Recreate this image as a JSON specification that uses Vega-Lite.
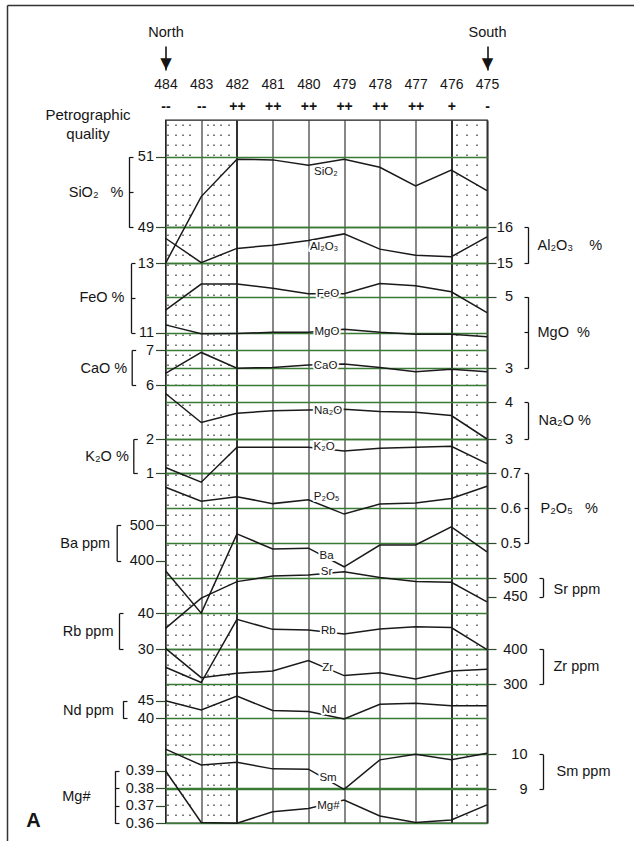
{
  "$schema": "https://vega.github.io/schema/vega-lite/v6.json",
  "width": 321.5,
  "height": 703,
  "autosize": {"type": "none"},
  "padding": {"left": 165.5, "top": 120, "right": 147, "bottom": 18},
  "background": "white",
  "datasets": {
    "chem": [
      {"s":484,"k":"SiO2","v":47.98},{"s":483,"k":"SiO2","v":49.87},{"s":482,"k":"SiO2","v":50.93},{"s":481,"k":"SiO2","v":50.91},{"s":480,"k":"SiO2","v":50.76},{"s":479,"k":"SiO2","v":50.93},{"s":478,"k":"SiO2","v":50.70},{"s":477,"k":"SiO2","v":50.17},{"s":476,"k":"SiO2","v":50.62},{"s":475,"k":"SiO2","v":50.04},
      {"s":484,"k":"Al2O3","v":15.69},{"s":483,"k":"Al2O3","v":15.02},{"s":482,"k":"Al2O3","v":15.41},{"s":481,"k":"Al2O3","v":15.50},{"s":480,"k":"Al2O3","v":15.63},{"s":479,"k":"Al2O3","v":15.81},{"s":478,"k":"Al2O3","v":15.39},{"s":477,"k":"Al2O3","v":15.22},{"s":476,"k":"Al2O3","v":15.18},{"s":475,"k":"Al2O3","v":15.73},
      {"s":484,"k":"FeO","v":11.65},{"s":483,"k":"FeO","v":12.40},{"s":482,"k":"FeO","v":12.40},{"s":481,"k":"FeO","v":12.28},{"s":480,"k":"FeO","v":12.12},{"s":479,"k":"FeO","v":12.12},{"s":478,"k":"FeO","v":12.42},{"s":477,"k":"FeO","v":12.35},{"s":476,"k":"FeO","v":12.18},{"s":475,"k":"FeO","v":11.58},
      {"s":484,"k":"MgO","v":4.21},{"s":483,"k":"MgO","v":3.96},{"s":482,"k":"MgO","v":3.97},{"s":481,"k":"MgO","v":4.00},{"s":480,"k":"MgO","v":4.00},{"s":479,"k":"MgO","v":4.09},{"s":478,"k":"MgO","v":4.00},{"s":477,"k":"MgO","v":3.95},{"s":476,"k":"MgO","v":3.95},{"s":475,"k":"MgO","v":3.88},
      {"s":484,"k":"CaO","v":6.33},{"s":483,"k":"CaO","v":6.93},{"s":482,"k":"CaO","v":6.48},{"s":481,"k":"CaO","v":6.50},{"s":480,"k":"CaO","v":6.57},{"s":479,"k":"CaO","v":6.60},{"s":478,"k":"CaO","v":6.50},{"s":477,"k":"CaO","v":6.38},{"s":476,"k":"CaO","v":6.45},{"s":475,"k":"CaO","v":6.38},
      {"s":484,"k":"Na2O","v":4.24},{"s":483,"k":"Na2O","v":3.45},{"s":482,"k":"Na2O","v":3.70},{"s":481,"k":"Na2O","v":3.77},{"s":480,"k":"Na2O","v":3.79},{"s":479,"k":"Na2O","v":3.81},{"s":478,"k":"Na2O","v":3.75},{"s":477,"k":"Na2O","v":3.73},{"s":476,"k":"Na2O","v":3.64},{"s":475,"k":"Na2O","v":3.00},
      {"s":484,"k":"K2O","v":1.17},{"s":483,"k":"K2O","v":0.74},{"s":482,"k":"K2O","v":1.76},{"s":481,"k":"K2O","v":1.76},{"s":480,"k":"K2O","v":1.76},{"s":479,"k":"K2O","v":1.65},{"s":478,"k":"K2O","v":1.73},{"s":477,"k":"K2O","v":1.76},{"s":476,"k":"K2O","v":1.79},{"s":475,"k":"K2O","v":1.28},
      {"s":484,"k":"P2O5","v":0.660},{"s":483,"k":"P2O5","v":0.620},{"s":482,"k":"P2O5","v":0.633},{"s":481,"k":"P2O5","v":0.613},{"s":480,"k":"P2O5","v":0.624},{"s":479,"k":"P2O5","v":0.583},{"s":478,"k":"P2O5","v":0.612},{"s":477,"k":"P2O5","v":0.615},{"s":476,"k":"P2O5","v":0.628},{"s":475,"k":"P2O5","v":0.663},
      {"s":484,"k":"Ba","v":372},{"s":483,"k":"Ba","v":253},{"s":482,"k":"Ba","v":475},{"s":481,"k":"Ba","v":433},{"s":480,"k":"Ba","v":435},{"s":479,"k":"Ba","v":383},{"s":478,"k":"Ba","v":444},{"s":477,"k":"Ba","v":444},{"s":476,"k":"Ba","v":495},{"s":475,"k":"Ba","v":425},
      {"s":484,"k":"Sr","v":364},{"s":483,"k":"Sr","v":446},{"s":482,"k":"Sr","v":491},{"s":481,"k":"Sr","v":506},{"s":480,"k":"Sr","v":509},{"s":479,"k":"Sr","v":518},{"s":478,"k":"Sr","v":502},{"s":477,"k":"Sr","v":491},{"s":476,"k":"Sr","v":489},{"s":475,"k":"Sr","v":436},
      {"s":484,"k":"Rb","v":24.9},{"s":483,"k":"Rb","v":20.6},{"s":482,"k":"Rb","v":38.3},{"s":481,"k":"Rb","v":35.5},{"s":480,"k":"Rb","v":35.3},{"s":479,"k":"Rb","v":34.2},{"s":478,"k":"Rb","v":35.6},{"s":477,"k":"Rb","v":36.2},{"s":476,"k":"Rb","v":36.0},{"s":475,"k":"Rb","v":29.8},
      {"s":484,"k":"Zr","v":402},{"s":483,"k":"Zr","v":318},{"s":482,"k":"Zr","v":331},{"s":481,"k":"Zr","v":337},{"s":480,"k":"Zr","v":367},{"s":479,"k":"Zr","v":324},{"s":478,"k":"Zr","v":332},{"s":477,"k":"Zr","v":314},{"s":476,"k":"Zr","v":337},{"s":475,"k":"Zr","v":342},
      {"s":484,"k":"Nd","v":45.0},{"s":483,"k":"Nd","v":42.4},{"s":482,"k":"Nd","v":46.3},{"s":481,"k":"Nd","v":42.2},{"s":480,"k":"Nd","v":41.9},{"s":479,"k":"Nd","v":39.8},{"s":478,"k":"Nd","v":44.0},{"s":477,"k":"Nd","v":44.3},{"s":476,"k":"Nd","v":43.6},{"s":475,"k":"Nd","v":43.6},
      {"s":484,"k":"Sm","v":10.15},{"s":483,"k":"Sm","v":9.69},{"s":482,"k":"Sm","v":9.77},{"s":481,"k":"Sm","v":9.58},{"s":480,"k":"Sm","v":9.57},{"s":479,"k":"Sm","v":8.99},{"s":478,"k":"Sm","v":9.84},{"s":477,"k":"Sm","v":10.00},{"s":476,"k":"Sm","v":9.84},{"s":475,"k":"Sm","v":10.03},
      {"s":484,"k":"Mg#","v":0.390},{"s":483,"k":"Mg#","v":0.3605},{"s":482,"k":"Mg#","v":0.360},{"s":481,"k":"Mg#","v":0.3666},{"s":480,"k":"Mg#","v":0.3685},{"s":479,"k":"Mg#","v":0.3733},{"s":478,"k":"Mg#","v":0.3642},{"s":477,"k":"Mg#","v":0.3604},{"s":476,"k":"Mg#","v":0.3619},{"s":475,"k":"Mg#","v":0.3705}
    ],
    "labels": [
      {"s":479.51,"k":"SiO2","v":50.575,"t":"SiO₂"},
      {"s":479.56,"k":"Al2O3","v":15.457,"t":"Al₂O₃"},
      {"s":479.45,"k":"FeO","v":12.115,"t":"FeO"},
      {"s":479.48,"k":"MgO","v":4.0,"t":"MgO"},
      {"s":479.52,"k":"CaO","v":6.543,"t":"CaO"},
      {"s":479.45,"k":"Na2O","v":3.765,"t":"Na₂O"},
      {"s":479.56,"k":"K2O","v":1.758,"t":"K₂O"},
      {"s":479.49,"k":"P2O5","v":0.632,"t":"P₂O₅"},
      {"s":479.49,"k":"Ba","v":413,"t":"Ba"},
      {"s":479.49,"k":"Sr","v":518,"t":"Sr"},
      {"s":479.44,"k":"Rb","v":35.04,"t":"Rb"},
      {"s":479.46,"k":"Zr","v":345,"t":"Zr"},
      {"s":479.42,"k":"Nd","v":42.36,"t":"Nd"},
      {"s":479.45,"k":"Sm","v":9.31,"t":"Sm"},
      {"s":479.44,"k":"Mg#","v":0.3699,"t":"Mg#"}
    ]
  },
  "resolve": {"scale": {"x": "independent", "y": "independent"}, "axis": {"x": "independent", "y": "independent"}},
  "layer": [
    {"data":{"name":"labels"},"mark":{"type":"point","opacity":0,"clip":true},
     "encoding":{"x":{"field":"s","type":"quantitative","scale":{"domain":[484,475],"nice":false,"zero":false},
       "axis":{"orient":"bottom","values":[483.936,483.725,483.529,483.333,482.829,482.647,482.451,482.246,475.863,475.583,475.303],"labels":false,"grid":true,"gridColor":"#4d4d4d","gridWidth":1.5,"gridDash":[1.5,8.5],"gridDashOffset":-4,"title":null}},
      "y":{"field":"v","type":"quantitative","scale":{"domain":[0,1],"nice":false,"zero":false},"axis":null}}},
    {"data":{"name":"labels"},"mark":{"type":"point","opacity":0,"clip":true},
     "encoding":{"x":{"field":"s","type":"quantitative","scale":{"domain":[484,475],"nice":false,"zero":false},
       "axis":{"orient":"top","values":[484,483,482,481,480,479,478,477,476,475],"format":"d","labelPadding":35.5,"labelBaseline":"middle","labelFontSize":14,"grid":true,"gridColor":"#262626","gridWidth":{"condition":{"test":"datum.value == 482 || datum.value == 476","value":1.9},"value":1.1},"title":null}},
      "y":{"field":"v","type":"quantitative","scale":{"domain":[0,1],"nice":false,"zero":false},"axis":null}}},

    {"data":{"name":"chem"},"transform":[{"filter":"datum.k == 'SiO2'"}],"mark":{"type":"line"},
     "encoding":{"x":{"field":"s","type":"quantitative","scale":{"domain":[484,475],"nice":false,"zero":false},"axis":null},
      "y":{"field":"v","type":"quantitative","scale":{"domain":[49,51],"range":[107.3,36.7],"nice":false,"zero":false},
       "axis":{"orient":"left","values":[49,50,51],"format":"d","ticks":true,"tickSize":10,"tickColor":"#2f4a2c","labelPadding":2,"grid":true,"title":null}}}},
    {"data":{"name":"labels"},"transform":[{"filter":"datum.k == 'SiO2'"}],"mark":{"type":"text","fill":"white","stroke":"white","strokeWidth":4,"strokeJoin":"round"},
     "encoding":{"x":{"field":"s","type":"quantitative","scale":{"domain":[484,475],"nice":false,"zero":false},"axis":null},
      "y":{"field":"v","type":"quantitative","scale":{"domain":[49,51],"range":[107.3,36.7],"nice":false,"zero":false},"axis":null},"text":{"field":"t"}}},
    {"data":{"name":"labels"},"transform":[{"filter":"datum.k == 'SiO2'"}],"mark":{"type":"text","fill":"#151515"},
     "encoding":{"x":{"field":"s","type":"quantitative","scale":{"domain":[484,475],"nice":false,"zero":false},
       "axis":{"orient":"top","values":[484,483,482,481,480,479,478,477,476,475],"labelExpr":"datum.value >= 483 ? '--' : datum.value >= 477 ? '++' : datum.value == 476 ? '+' : '-'","labelPadding":14,"labelBaseline":"middle","labelFontSize":14,"labelFontWeight":"bold","title":["Petrographic","quality"],"titleX":-78,"titleY":-5.5,"titleAlign":"center","titleFontSize":15,"titleLineHeight":19}},
      "y":{"field":"v","type":"quantitative","scale":{"domain":[49,51],"range":[107.3,36.7],"nice":false,"zero":false},
       "axis":{"orient":"right","offset":-358,"values":[49,50,51],"ticks":true,"tickSize":4,"labels":false,"domain":true,"title":"SiO₂\u00a0\u00a0 %","titleAlign":"right","titleX":-6,"titleY":72}},"text":{"field":"t"}}},

    {"data":{"name":"chem"},"transform":[{"filter":"datum.k == 'Al2O3'"}],"mark":{"type":"line"},
     "encoding":{"x":{"field":"s","type":"quantitative","scale":{"domain":[484,475],"nice":false,"zero":false},
       "axis":{"orient":"top","values":[484,475],"offset":50,"ticks":true,"tickSize":24,"tickWidth":1.6,"tickColor":"#151515","labelExpr":"datum.value == 484 ? 'North' : 'South'","labelPadding":13.5,"labelBaseline":"middle","labelFontSize":14.5,"title":null}},
      "y":{"field":"v","type":"quantitative","scale":{"domain":[15,16],"range":[143.3,107],"nice":false,"zero":false},
       "axis":{"orient":"right","values":[15,16],"format":"d","ticks":true,"tickSize":9,"tickColor":"#2f4a2c","labelAlign":"right","labelPadding":16.5,"grid":true,"title":null}}}},
    {"data":{"name":"labels"},"transform":[{"filter":"datum.k == 'Al2O3'"}],"mark":{"type":"text","fill":"white","stroke":"white","strokeWidth":4,"strokeJoin":"round"},
     "encoding":{"x":{"field":"s","type":"quantitative","scale":{"domain":[484,475],"nice":false,"zero":false},"axis":null},
      "y":{"field":"v","type":"quantitative","scale":{"domain":[15,16],"range":[143.3,107],"nice":false,"zero":false},"axis":null},"text":{"field":"t"}}},
    {"data":{"name":"labels"},"transform":[{"filter":"datum.k == 'Al2O3'"}],"mark":{"type":"text","fill":"#151515"},
     "encoding":{"x":{"field":"s","type":"quantitative","scale":{"domain":[484,475],"nice":false,"zero":false},
       "axis":{"orient":"top","values":[484,475],"labelExpr":"'▼'","labelFont":"DejaVu Sans","labelFontSize":15,"labelPadding":57.5,"labelBaseline":"middle","title":null}},
      "y":{"field":"v","type":"quantitative","scale":{"domain":[15,16],"range":[143.3,107],"nice":false,"zero":false},
       "axis":{"orient":"left","offset":-362.5,"values":[15,16],"ticks":true,"tickSize":4,"labels":false,"domain":true,"title":"Al₂O₃\u00a0\u00a0\u00a0 %","titleAlign":"left","titleX":9,"titleY":125}},"text":{"field":"t"}}},

    {"data":{"name":"chem"},"transform":[{"filter":"datum.k == 'FeO'"}],"mark":{"type":"line"},
     "encoding":{"x":{"field":"s","type":"quantitative","scale":{"domain":[484,475],"nice":false,"zero":false},"axis":null},
      "y":{"field":"v","type":"quantitative","scale":{"domain":[11,13],"range":[212.7,143.3],"nice":false,"zero":false},
       "axis":{"orient":"left","values":[11,12,13],"format":"d","ticks":true,"tickSize":10,"tickColor":"#2f4a2c","labelPadding":2,"grid":true,"title":null}}}},
    {"data":{"name":"labels"},"transform":[{"filter":"datum.k == 'FeO'"}],"mark":{"type":"text","fill":"white","stroke":"white","strokeWidth":4,"strokeJoin":"round"},
     "encoding":{"x":{"field":"s","type":"quantitative","scale":{"domain":[484,475],"nice":false,"zero":false},"axis":null},
      "y":{"field":"v","type":"quantitative","scale":{"domain":[11,13],"range":[212.7,143.3],"nice":false,"zero":false},"axis":null},"text":{"field":"t"}}},
    {"data":{"name":"labels"},"transform":[{"filter":"datum.k == 'FeO'"}],"mark":{"type":"text","fill":"#151515"},
     "encoding":{"x":{"field":"s","type":"quantitative","scale":{"domain":[484,475],"nice":false,"zero":false},
       "axis":{"orient":"bottom","values":[484],"labels":false,"title":"A","titleX":-132.5,"titleY":-3,"titleAlign":"center","titleFontSize":20,"titleFontWeight":"bold"}},
      "y":{"field":"v","type":"quantitative","scale":{"domain":[11,13],"range":[212.7,143.3],"nice":false,"zero":false},
       "axis":{"orient":"right","offset":-356,"values":[11,12,13],"ticks":true,"tickSize":4,"labels":false,"domain":true,"title":"FeO %","titleAlign":"right","titleX":-7,"titleY":177}},"text":{"field":"t"}}},

    {"data":{"name":"chem"},"transform":[{"filter":"datum.k == 'MgO'"}],"mark":{"type":"line"},
     "encoding":{"x":{"field":"s","type":"quantitative","scale":{"domain":[484,475],"nice":false,"zero":false},"axis":null},
      "y":{"field":"v","type":"quantitative","scale":{"domain":[3,5],"range":[248,176.7],"nice":false,"zero":false},
       "axis":{"orient":"right","values":[3,4,5],"format":"d","ticks":true,"tickSize":9,"tickColor":"#2f4a2c","labelAlign":"right","labelPadding":16.5,"grid":true,"title":null}}}},
    {"data":{"name":"labels"},"transform":[{"filter":"datum.k == 'MgO'"}],"mark":{"type":"text","fill":"white","stroke":"white","strokeWidth":4,"strokeJoin":"round"},
     "encoding":{"x":{"field":"s","type":"quantitative","scale":{"domain":[484,475],"nice":false,"zero":false},"axis":null},
      "y":{"field":"v","type":"quantitative","scale":{"domain":[3,5],"range":[248,176.7],"nice":false,"zero":false},"axis":null},"text":{"field":"t"}}},
    {"data":{"name":"labels"},"transform":[{"filter":"datum.k == 'MgO'"}],"mark":{"type":"text","fill":"#151515"},
     "encoding":{"x":{"field":"s","type":"quantitative","scale":{"domain":[484,475],"nice":false,"zero":false},"axis":null},
      "y":{"field":"v","type":"quantitative","scale":{"domain":[3,5],"range":[248,176.7],"nice":false,"zero":false},
       "axis":{"orient":"left","offset":-362.5,"values":[3,4,5],"ticks":true,"tickSize":4,"labels":false,"domain":true,"title":"MgO\u00a0 %","titleAlign":"left","titleX":9,"titleY":212.7}},"text":{"field":"t"}}},

    {"data":{"name":"chem"},"transform":[{"filter":"datum.k == 'CaO'"}],"mark":{"type":"line"},
     "encoding":{"x":{"field":"s","type":"quantitative","scale":{"domain":[484,475],"nice":false,"zero":false},"axis":null},
      "y":{"field":"v","type":"quantitative","scale":{"domain":[6,7],"range":[265,230],"nice":false,"zero":false},
       "axis":{"orient":"left","values":[6,7],"format":"d","ticks":true,"tickSize":10,"tickColor":"#2f4a2c","labelPadding":2,"grid":true,"title":null}}}},
    {"data":{"name":"labels"},"transform":[{"filter":"datum.k == 'CaO'"}],"mark":{"type":"text","fill":"white","stroke":"white","strokeWidth":4,"strokeJoin":"round"},
     "encoding":{"x":{"field":"s","type":"quantitative","scale":{"domain":[484,475],"nice":false,"zero":false},"axis":null},
      "y":{"field":"v","type":"quantitative","scale":{"domain":[6,7],"range":[265,230],"nice":false,"zero":false},"axis":null},"text":{"field":"t"}}},
    {"data":{"name":"labels"},"transform":[{"filter":"datum.k == 'CaO'"}],"mark":{"type":"text","fill":"#151515"},
     "encoding":{"x":{"field":"s","type":"quantitative","scale":{"domain":[484,475],"nice":false,"zero":false},"axis":null},
      "y":{"field":"v","type":"quantitative","scale":{"domain":[6,7],"range":[265,230],"nice":false,"zero":false},
       "axis":{"orient":"right","offset":-355.3,"values":[6,7],"ticks":true,"tickSize":4,"labels":false,"domain":true,"title":"CaO %","titleAlign":"right","titleX":-5,"titleY":248}},"text":{"field":"t"}}},

    {"data":{"name":"chem"},"transform":[{"filter":"datum.k == 'Na2O'"}],"mark":{"type":"line"},
     "encoding":{"x":{"field":"s","type":"quantitative","scale":{"domain":[484,475],"nice":false,"zero":false},"axis":null},
      "y":{"field":"v","type":"quantitative","scale":{"domain":[3,4],"range":[319,282.3],"nice":false,"zero":false},
       "axis":{"orient":"right","values":[3,4],"format":"d","ticks":true,"tickSize":9,"tickColor":"#2f4a2c","labelAlign":"right","labelPadding":16.5,"grid":true,"title":null}}}},
    {"data":{"name":"labels"},"transform":[{"filter":"datum.k == 'Na2O'"}],"mark":{"type":"text","fill":"white","stroke":"white","strokeWidth":4,"strokeJoin":"round"},
     "encoding":{"x":{"field":"s","type":"quantitative","scale":{"domain":[484,475],"nice":false,"zero":false},"axis":null},
      "y":{"field":"v","type":"quantitative","scale":{"domain":[3,4],"range":[319,282.3],"nice":false,"zero":false},"axis":null},"text":{"field":"t"}}},
    {"data":{"name":"labels"},"transform":[{"filter":"datum.k == 'Na2O'"}],"mark":{"type":"text","fill":"#151515"},
     "encoding":{"x":{"field":"s","type":"quantitative","scale":{"domain":[484,475],"nice":false,"zero":false},"axis":null},
      "y":{"field":"v","type":"quantitative","scale":{"domain":[3,4],"range":[319,282.3],"nice":false,"zero":false},
       "axis":{"orient":"left","offset":-362.5,"values":[3,4],"ticks":true,"tickSize":4,"labels":false,"domain":true,"title":"Na₂O %","titleAlign":"left","titleX":10,"titleY":300}},"text":{"field":"t"}}},

    {"data":{"name":"chem"},"transform":[{"filter":"datum.k == 'K2O'"}],"mark":{"type":"line"},
     "encoding":{"x":{"field":"s","type":"quantitative","scale":{"domain":[484,475],"nice":false,"zero":false},"axis":null},
      "y":{"field":"v","type":"quantitative","scale":{"domain":[1,2],"range":[353.3,319],"nice":false,"zero":false},
       "axis":{"orient":"left","values":[1,2],"format":"d","ticks":true,"tickSize":10,"tickColor":"#2f4a2c","labelPadding":2,"grid":true,"title":null}}}},
    {"data":{"name":"labels"},"transform":[{"filter":"datum.k == 'K2O'"}],"mark":{"type":"text","fill":"white","stroke":"white","strokeWidth":4,"strokeJoin":"round"},
     "encoding":{"x":{"field":"s","type":"quantitative","scale":{"domain":[484,475],"nice":false,"zero":false},"axis":null},
      "y":{"field":"v","type":"quantitative","scale":{"domain":[1,2],"range":[353.3,319],"nice":false,"zero":false},"axis":null},"text":{"field":"t"}}},
    {"data":{"name":"labels"},"transform":[{"filter":"datum.k == 'K2O'"}],"mark":{"type":"text","fill":"#151515"},
     "encoding":{"x":{"field":"s","type":"quantitative","scale":{"domain":[484,475],"nice":false,"zero":false},"axis":null},
      "y":{"field":"v","type":"quantitative","scale":{"domain":[1,2],"range":[353.3,319],"nice":false,"zero":false},
       "axis":{"orient":"right","offset":-353.7,"values":[1,2],"ticks":true,"tickSize":4,"labels":false,"domain":true,"title":"K₂O %","titleAlign":"right","titleX":-5,"titleY":336.7}},"text":{"field":"t"}}},

    {"data":{"name":"chem"},"transform":[{"filter":"datum.k == 'P2O5'"}],"mark":{"type":"line"},
     "encoding":{"x":{"field":"s","type":"quantitative","scale":{"domain":[484,475],"nice":false,"zero":false},"axis":null},
      "y":{"field":"v","type":"quantitative","scale":{"domain":[0.5,0.7],"range":[423,353.3],"nice":false,"zero":false},
       "axis":{"orient":"right","values":[0.5,0.6,0.7],"format":".1f","ticks":true,"tickSize":9,"tickColor":"#2f4a2c","labelAlign":"right","labelPadding":24.5,"grid":true,"title":null}}}},
    {"data":{"name":"labels"},"transform":[{"filter":"datum.k == 'P2O5'"}],"mark":{"type":"text","fill":"white","stroke":"white","strokeWidth":4,"strokeJoin":"round"},
     "encoding":{"x":{"field":"s","type":"quantitative","scale":{"domain":[484,475],"nice":false,"zero":false},"axis":null},
      "y":{"field":"v","type":"quantitative","scale":{"domain":[0.5,0.7],"range":[423,353.3],"nice":false,"zero":false},"axis":null},"text":{"field":"t"}}},
    {"data":{"name":"labels"},"transform":[{"filter":"datum.k == 'P2O5'"}],"mark":{"type":"text","fill":"#151515"},
     "encoding":{"x":{"field":"s","type":"quantitative","scale":{"domain":[484,475],"nice":false,"zero":false},"axis":null},
      "y":{"field":"v","type":"quantitative","scale":{"domain":[0.5,0.7],"range":[423,353.3],"nice":false,"zero":false},
       "axis":{"orient":"left","offset":-362.5,"values":[0.5,0.6,0.7],"ticks":true,"tickSize":4,"labels":false,"domain":true,"title":"P₂O₅\u00a0\u00a0 %","titleAlign":"left","titleX":12,"titleY":388}},"text":{"field":"t"}}},

    {"data":{"name":"chem"},"transform":[{"filter":"datum.k == 'Ba'"}],"mark":{"type":"line"},
     "encoding":{"x":{"field":"s","type":"quantitative","scale":{"domain":[484,475],"nice":false,"zero":false},"axis":null},
      "y":{"field":"v","type":"quantitative","scale":{"domain":[400,500],"range":[440.7,405],"nice":false,"zero":false},
       "axis":{"orient":"left","values":[400,500],"format":"d","ticks":true,"tickSize":10,"tickColor":"#2f4a2c","labelPadding":2,"grid":false,"title":null}}}},
    {"data":{"name":"labels"},"transform":[{"filter":"datum.k == 'Ba'"}],"mark":{"type":"text","fill":"white","stroke":"white","strokeWidth":4,"strokeJoin":"round"},
     "encoding":{"x":{"field":"s","type":"quantitative","scale":{"domain":[484,475],"nice":false,"zero":false},"axis":null},
      "y":{"field":"v","type":"quantitative","scale":{"domain":[400,500],"range":[440.7,405],"nice":false,"zero":false},"axis":null},"text":{"field":"t"}}},
    {"data":{"name":"labels"},"transform":[{"filter":"datum.k == 'Ba'"}],"mark":{"type":"text","fill":"#151515"},
     "encoding":{"x":{"field":"s","type":"quantitative","scale":{"domain":[484,475],"nice":false,"zero":false},"axis":null},
      "y":{"field":"v","type":"quantitative","scale":{"domain":[400,500],"range":[440.7,405],"nice":false,"zero":false},
       "axis":{"orient":"right","offset":-370.3,"values":[400,500],"ticks":true,"tickSize":4,"labels":false,"domain":true,"title":"Ba ppm","titleAlign":"right","titleX":-7,"titleY":423}},"text":{"field":"t"}}},

    {"data":{"name":"chem"},"transform":[{"filter":"datum.k == 'Sr'"}],"mark":{"type":"line"},
     "encoding":{"x":{"field":"s","type":"quantitative","scale":{"domain":[484,475],"nice":false,"zero":false},"axis":null},
      "y":{"field":"v","type":"quantitative","scale":{"domain":[450,500],"range":[476.7,458.3],"nice":false,"zero":false},
       "axis":{"orient":"right","values":[450,500],"format":"d","ticks":true,"tickSize":9,"tickColor":"#2f4a2c","labelAlign":"right","labelPadding":31,"grid":true,"gridColor":{"condition":{"test":"datum.value == 450","value":"transparent"},"value":"#3b7a35"},"title":null}}}},
    {"data":{"name":"labels"},"transform":[{"filter":"datum.k == 'Sr'"}],"mark":{"type":"text","fill":"white","stroke":"white","strokeWidth":4,"strokeJoin":"round"},
     "encoding":{"x":{"field":"s","type":"quantitative","scale":{"domain":[484,475],"nice":false,"zero":false},"axis":null},
      "y":{"field":"v","type":"quantitative","scale":{"domain":[450,500],"range":[476.7,458.3],"nice":false,"zero":false},"axis":null},"text":{"field":"t"}}},
    {"data":{"name":"labels"},"transform":[{"filter":"datum.k == 'Sr'"}],"mark":{"type":"text","fill":"#151515"},
     "encoding":{"x":{"field":"s","type":"quantitative","scale":{"domain":[484,475],"nice":false,"zero":false},"axis":null},
      "y":{"field":"v","type":"quantitative","scale":{"domain":[450,500],"range":[476.7,458.3],"nice":false,"zero":false},
       "axis":{"orient":"left","offset":-377.5,"values":[450,500],"ticks":true,"tickSize":4,"labels":false,"domain":true,"title":"Sr ppm","titleAlign":"left","titleX":10,"titleY":469}},"text":{"field":"t"}}},

    {"data":{"name":"chem"},"transform":[{"filter":"datum.k == 'Rb'"}],"mark":{"type":"line"},
     "encoding":{"x":{"field":"s","type":"quantitative","scale":{"domain":[484,475],"nice":false,"zero":false},"axis":null},
      "y":{"field":"v","type":"quantitative","scale":{"domain":[30,40],"range":[529,493.3],"nice":false,"zero":false},
       "axis":{"orient":"left","values":[30,40],"format":"d","ticks":true,"tickSize":10,"tickColor":"#2f4a2c","labelPadding":2,"grid":true,"title":null}}}},
    {"data":{"name":"labels"},"transform":[{"filter":"datum.k == 'Rb'"}],"mark":{"type":"text","fill":"white","stroke":"white","strokeWidth":4,"strokeJoin":"round"},
     "encoding":{"x":{"field":"s","type":"quantitative","scale":{"domain":[484,475],"nice":false,"zero":false},"axis":null},
      "y":{"field":"v","type":"quantitative","scale":{"domain":[30,40],"range":[529,493.3],"nice":false,"zero":false},"axis":null},"text":{"field":"t"}}},
    {"data":{"name":"labels"},"transform":[{"filter":"datum.k == 'Rb'"}],"mark":{"type":"text","fill":"#151515"},
     "encoding":{"x":{"field":"s","type":"quantitative","scale":{"domain":[484,475],"nice":false,"zero":false},"axis":null},
      "y":{"field":"v","type":"quantitative","scale":{"domain":[30,40],"range":[529,493.3],"nice":false,"zero":false},
       "axis":{"orient":"right","offset":-368,"values":[30,40],"ticks":true,"tickSize":4,"labels":false,"domain":true,"title":"Rb ppm","titleAlign":"right","titleX":-6,"titleY":511.7}},"text":{"field":"t"}}},

    {"data":{"name":"chem"},"transform":[{"filter":"datum.k == 'Zr'"}],"mark":{"type":"line"},
     "encoding":{"x":{"field":"s","type":"quantitative","scale":{"domain":[484,475],"nice":false,"zero":false},"axis":null},
      "y":{"field":"v","type":"quantitative","scale":{"domain":[300,400],"range":[564,529],"nice":false,"zero":false},
       "axis":{"orient":"right","values":[300,400],"format":"d","ticks":true,"tickSize":9,"tickColor":"#2f4a2c","labelAlign":"right","labelPadding":31,"grid":true,"title":null}}}},
    {"data":{"name":"labels"},"transform":[{"filter":"datum.k == 'Zr'"}],"mark":{"type":"text","fill":"white","stroke":"white","strokeWidth":4,"strokeJoin":"round"},
     "encoding":{"x":{"field":"s","type":"quantitative","scale":{"domain":[484,475],"nice":false,"zero":false},"axis":null},
      "y":{"field":"v","type":"quantitative","scale":{"domain":[300,400],"range":[564,529],"nice":false,"zero":false},"axis":null},"text":{"field":"t"}}},
    {"data":{"name":"labels"},"transform":[{"filter":"datum.k == 'Zr'"}],"mark":{"type":"text","fill":"#151515"},
     "encoding":{"x":{"field":"s","type":"quantitative","scale":{"domain":[484,475],"nice":false,"zero":false},"axis":null},
      "y":{"field":"v","type":"quantitative","scale":{"domain":[300,400],"range":[564,529],"nice":false,"zero":false},
       "axis":{"orient":"left","offset":-377.5,"values":[300,400],"ticks":true,"tickSize":4,"labels":false,"domain":true,"title":"Zr ppm","titleAlign":"left","titleX":10,"titleY":546.7}},"text":{"field":"t"}}},

    {"data":{"name":"chem"},"transform":[{"filter":"datum.k == 'Nd'"}],"mark":{"type":"line"},
     "encoding":{"x":{"field":"s","type":"quantitative","scale":{"domain":[484,475],"nice":false,"zero":false},"axis":null},
      "y":{"field":"v","type":"quantitative","scale":{"domain":[40,45],"range":[598.3,580.7],"nice":false,"zero":false},
       "axis":{"orient":"left","values":[40,45],"format":"d","ticks":true,"tickSize":10,"tickColor":"#2f4a2c","labelPadding":2,"grid":true,"gridColor":{"condition":{"test":"datum.value == 45","value":"transparent"},"value":"#3b7a35"},"title":null}}}},
    {"data":{"name":"labels"},"transform":[{"filter":"datum.k == 'Nd'"}],"mark":{"type":"text","fill":"white","stroke":"white","strokeWidth":4,"strokeJoin":"round"},
     "encoding":{"x":{"field":"s","type":"quantitative","scale":{"domain":[484,475],"nice":false,"zero":false},"axis":null},
      "y":{"field":"v","type":"quantitative","scale":{"domain":[40,45],"range":[598.3,580.7],"nice":false,"zero":false},"axis":null},"text":{"field":"t"}}},
    {"data":{"name":"labels"},"transform":[{"filter":"datum.k == 'Nd'"}],"mark":{"type":"text","fill":"#151515"},
     "encoding":{"x":{"field":"s","type":"quantitative","scale":{"domain":[484,475],"nice":false,"zero":false},"axis":null},
      "y":{"field":"v","type":"quantitative","scale":{"domain":[40,45],"range":[598.3,580.7],"nice":false,"zero":false},
       "axis":{"orient":"right","offset":-364,"values":[40,45],"ticks":true,"tickSize":4,"labels":false,"domain":true,"title":"Nd ppm","titleAlign":"right","titleX":-9.7,"titleY":590.7}},"text":{"field":"t"}}},

    {"data":{"name":"chem"},"transform":[{"filter":"datum.k == 'Sm'"}],"mark":{"type":"line"},
     "encoding":{"x":{"field":"s","type":"quantitative","scale":{"domain":[484,475],"nice":false,"zero":false},"axis":null},
      "y":{"field":"v","type":"quantitative","scale":{"domain":[9,10],"range":[669,634.3],"nice":false,"zero":false},
       "axis":{"orient":"right","values":[9,10],"format":"d","ticks":true,"tickSize":9,"tickColor":"#2f4a2c","labelAlign":"right","labelPadding":31,"grid":true,"title":null}}}},
    {"data":{"name":"labels"},"transform":[{"filter":"datum.k == 'Sm'"}],"mark":{"type":"text","fill":"white","stroke":"white","strokeWidth":4,"strokeJoin":"round"},
     "encoding":{"x":{"field":"s","type":"quantitative","scale":{"domain":[484,475],"nice":false,"zero":false},"axis":null},
      "y":{"field":"v","type":"quantitative","scale":{"domain":[9,10],"range":[669,634.3],"nice":false,"zero":false},"axis":null},"text":{"field":"t"}}},
    {"data":{"name":"labels"},"transform":[{"filter":"datum.k == 'Sm'"}],"mark":{"type":"text","fill":"#151515"},
     "encoding":{"x":{"field":"s","type":"quantitative","scale":{"domain":[484,475],"nice":false,"zero":false},"axis":null},
      "y":{"field":"v","type":"quantitative","scale":{"domain":[9,10],"range":[669,634.3],"nice":false,"zero":false},
       "axis":{"orient":"left","offset":-377.5,"values":[9,10],"ticks":true,"tickSize":4,"labels":false,"domain":true,"title":"Sm ppm","titleAlign":"left","titleX":13,"titleY":651.7}},"text":{"field":"t"}}},

    {"data":{"name":"chem"},"transform":[{"filter":"datum.k == 'Mg#'"}],"mark":{"type":"line"},
     "encoding":{"x":{"field":"s","type":"quantitative","scale":{"domain":[484,475],"nice":false,"zero":false},"axis":null},
      "y":{"field":"v","type":"quantitative","scale":{"domain":[0.36,0.39],"range":[703.3,650.7],"nice":false,"zero":false},
       "axis":{"orient":"left","values":[0.36,0.37,0.38,0.39],"format":".2f","ticks":true,"tickSize":10,"tickColor":"#2f4a2c","labelPadding":2,"grid":true,"gridColor":{"condition":{"test":"datum.value > 0.385 || (datum.value > 0.365 && datum.value < 0.375)","value":"transparent"},"value":"#3b7a35"},"title":null}}}},
    {"data":{"name":"labels"},"transform":[{"filter":"datum.k == 'Mg#'"}],"mark":{"type":"text","fill":"white","stroke":"white","strokeWidth":4,"strokeJoin":"round"},
     "encoding":{"x":{"field":"s","type":"quantitative","scale":{"domain":[484,475],"nice":false,"zero":false},"axis":null},
      "y":{"field":"v","type":"quantitative","scale":{"domain":[0.36,0.39],"range":[703.3,650.7],"nice":false,"zero":false},"axis":null},"text":{"field":"t"}}},
    {"data":{"name":"labels"},"transform":[{"filter":"datum.k == 'Mg#'"}],"mark":{"type":"text","fill":"#151515"},
     "encoding":{"x":{"field":"s","type":"quantitative","scale":{"domain":[484,475],"nice":false,"zero":false},"axis":null},
      "y":{"field":"v","type":"quantitative","scale":{"domain":[0.36,0.39],"range":[703.3,650.7],"nice":false,"zero":false},
       "axis":{"orient":"right","offset":-372,"values":[0.36,0.37,0.38,0.39],"ticks":true,"tickSize":4,"labels":false,"domain":true,"title":"Mg#","titleAlign":"right","titleX":-25,"titleY":676.7}},"text":{"field":"t"}}},

    {"data":{"name":"labels"},"mark":{"type":"point","opacity":0,"clip":true},
     "encoding":{"x":{"field":"s","type":"quantitative","scale":{"domain":[484,475],"nice":false,"zero":false,"range":[-158.5,468.5]},
       "axis":{"orient":"top","offset":115,"domain":true,"domainColor":"#333333","domainWidth":1.5,"labels":false,"values":[],"title":null}},
      "y":{"field":"v","type":"quantitative","scale":{"domain":[0,1],"range":[721,-115],"nice":false,"zero":false},
       "axis":{"orient":"left","offset":158.5,"domain":true,"domainColor":"#333333","domainWidth":1.5,"labels":false,"values":[],"title":null}}}}
  ],
  "config": {
    "view": {"stroke": "#1e1e1e", "strokeWidth": 1.3},
    "axis": {"labelFont": "Liberation Sans", "titleFont": "Liberation Sans", "labelFontSize": 14.5, "titleFontSize": 14.5, "titleFontWeight": "normal", "labelColor": "#151515", "titleColor": "#151515", "labelFlush": false, "labelOverlap": false, "labelBound": false, "grid": false, "domain": false, "ticks": false, "domainColor": "#151515", "domainWidth": 1.3, "tickColor": "#151515", "tickWidth": 1.2, "gridColor": "#3b7a35", "gridWidth": 1.4, "titleAngle": 0, "titleBaseline": "middle", "titlePadding": 0},
    "line": {"color": "#1a1a1a", "strokeWidth": 1.5},
    "text": {"font": "Liberation Sans", "fontSize": 11.5, "align": "center", "baseline": "middle"}
  }
}
